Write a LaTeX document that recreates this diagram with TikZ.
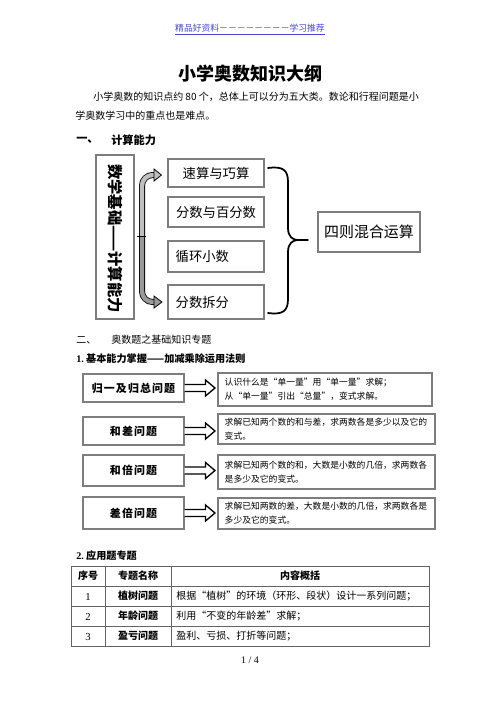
\documentclass[tikz,border=0pt]{standalone}
\usepackage{fontspec}
\setmainfont{Noto Sans CJK SC}
\newfontfamily\numfont{Liberation Serif}
\usetikzlibrary{calc}
\definecolor{hdrblue}{RGB}{70,70,215}
\definecolor{boxgray}{RGB}{125,125,125}
\definecolor{bandgray}{RGB}{190,190,190}
\newcommand{\fs}[1]{\fontsize{#1pt}{#1pt}\selectfont}
\begin{document}
\begin{tikzpicture}[x=0.75pt,y=-0.75pt,inner sep=0pt,
  body/.style={font=\fs{7.5}},
  gbox/.style={draw=boxgray,line width=0.8pt,fill=white},
  midtxt/.style={font=\fs{10}},
  lbox/.style={gbox,minimum width=75.75pt},
  ltxt/.style={font=\addfontfeatures{LetterSpace=10}\fs{8.2}\bfseries},
  rbox/.style={gbox},
  rtxt/.style={font=\fontsize{6.6pt}{10.5pt}\selectfont,align=left,anchor=west},
  blk/.style={draw=black,line width=1pt,fill=white,line join=miter},
  tline/.style={draw=boxgray!80!black,line width=0.7pt}]
\useasboundingbox (0,0) rectangle (500,708);
\fill[white] (0,0) rectangle (500,708);

% header
\node[font=\fs{6.6},text=hdrblue] (hdr) at (250,28) {精品好资料－－－－－－－－学习推荐};
\draw[hdrblue,line width=0.4pt] ($(hdr.south west)+(0,1.5)$) -- ($(hdr.south east)+(0,1.5)$);

% title
\node[font=\fs{13.5}\bfseries] (title) at (250,74) {小学奥数知识大纲};
\node[body,anchor=west] (p1) at (93,97) {小学奥数的知识点约 80 个，总体上可以分为五大类。数论和行程问题是小};
\node[body,anchor=west] (p2) at (75,116) {学奥数学习中的重点也是难点。};

% section 1
\node[font=\fs{8.4}\bfseries,anchor=west] (s1a) at (76,140) {一、};
\node[font=\fs{8.4}\bfseries,anchor=west] (s1b) at (111,140) {计算能力};

\node[gbox,minimum width=28.5pt,minimum height=123pt] (vb) at (115,237) {};
\node[rotate=-90,font=\fs{11.5}\bfseries] (vt) at (115,238.5) {数学基础——计算能力};

\node[gbox,midtxt,minimum width=72pt,minimum height=21pt] (b1) at (216,173) {速算与巧算};
\node[gbox,midtxt,minimum width=72pt,minimum height=22.5pt] (b2) at (216,212) {分数与百分数};
\node[gbox,minimum width=72pt,minimum height=23.25pt] (b3) at (216,256.5) {};
\node[midtxt,anchor=west] at ($(b3.west)+(8,0)$) {循环小数};
\node[gbox,minimum width=72pt,minimum height=25.5pt] (b4) at (216,302) {};
\node[midtxt,anchor=west] at ($(b4.west)+(8,0)$) {分数拆分};

\node[gbox,font=\fs{11.2},minimum width=76.5pt,minimum height=30pt] (big) at (369,232) {四则混合运算};

% curved double arrow
\coordinate (mid) at (142,236);
\coordinate (t1) at (155,175);
\coordinate (t2) at (155,302);
\draw[line width=0.6pt,double=bandgray,double distance=3.3pt,rounded corners=8pt] (mid) |- (t1);
\draw[line width=0.6pt,double=bandgray!80!black,double distance=3.3pt,rounded corners=8pt] (mid) |- (t2);
\draw[line width=0.6pt,fill=bandgray] ($(t1)+(-1,-6)$) -- ($(b1.west)+(-6,2)$) -- ($(t1)+(-1,6)$) -- cycle;
\draw[line width=0.6pt,fill=bandgray!80!black] ($(t2)+(-1,-6)$) -- ($(t2)+(7,0)$) -- ($(t2)+(-1,6)$) -- cycle;
\draw[line width=0.6pt] (137,236) -- (146,236);

% brace
\draw[line width=1.3pt,line cap=round]
  (268,168) .. controls (283,166) and (288,170) .. (288,182) -- (288,228)
  .. controls (288,237) and (293,240) .. (298,240) -- (308,240);
\draw[line width=1.3pt,line cap=round]
  (268,313) .. controls (283,315) and (288,311) .. (288,299) -- (288,252)
  .. controls (288,243) and (293,240) .. (298,240);

% section 2
\node[body,anchor=west] (s2a) at (76,340) {二、};
\node[body,anchor=west] (s2b) at (111,340) {奥数题之基础知识专题};
\node[font=\fs{7.6}\bfseries,anchor=west] (s21) at (76,359) {{\numfont 1.}\ 基本能力掌握——加减乘除运用法则};

\node[lbox,minimum height=21pt] (L1) at (133.5,388) {};
\node[ltxt] at (L1) {归一及归总问题};
\node[rbox,minimum width=160.5pt,minimum height=24.75pt] (R1) at (325,389.5) {};
\node[rtxt] at ($(R1.west)+(7,0)$) {认识什么是“单一量”用“单一量”求解；\\从“单一量”引出“总量”，变式求解。};

\node[lbox,minimum height=21pt] (L2) at (133.5,431) {};
\node[ltxt] at (L2) {和差问题};
\node[rbox,minimum width=162.75pt,minimum height=22.5pt] (R2) at (326.5,429) {};
\node[rtxt] at ($(R2.west)+(7,0)$) {求解已知两个数的和与差，求两数各是多少以及它的\\变式。};

\node[lbox,minimum height=23.25pt] (L3) at (133.5,470.5) {};
\node[ltxt] at (L3) {和倍问题};
\node[rbox,minimum width=162.75pt,minimum height=25.5pt] (R3) at (326.5,472) {};
\node[rtxt] at ($(R3.west)+(7,0)$) {求解已知两个数的和，大数是小数的几倍，求两数各\\是多少及它的变式。};

\node[lbox,minimum height=24pt] (L4) at (133.5,513) {};
\node[ltxt] at (L4) {差倍问题};
\node[rbox,minimum width=162.75pt,minimum height=23.25pt] (R4) at (326.5,513.5) {};
\node[rtxt] at ($(R4.west)+(7,0)$) {求解已知两数的差，大数是小数的几倍，求两数各是\\多少及它的变式。};

\foreach \l/\r in {L1/R1,L2/R2,L3/R3,L4/R4}{
  \draw[blk] ($(\l.east)+(0,-3.5)$) -- ($(\l.east)+(21,-3.5)$) -- ($(\l.east)+(21,-8)$)
    -- ($(\r.west|-\l.east)+(-2.5,0)$) -- ($(\l.east)+(21,8)$) -- ($(\l.east)+(21,3.5)$)
    -- ($(\l.east)+(0,3.5)$);
}

% section 2.2
\node[font=\fs{7.6}\bfseries,anchor=west] (s22) at (76,556) {{\numfont 2.}\ 应用题专题};

\draw[tline] (71,566) rectangle (429,646);
\foreach \y in {586,606,626} \draw[tline] (71,\y) -- (429,\y);
\foreach \x in {105,171} \draw[tline] (\x,566) -- (\x,646);

\node[font=\fs{7.5}\bfseries] at (88,576) {序号};
\node[font=\fs{7.5}\bfseries] at (138,576) {专题名称};
\node[font=\fs{7.5}\bfseries] at (300,576) {内容概括};

\node[font=\numfont\fs{8}] at (88,597) {1};
\node[font=\fs{7.5}\bfseries] at (138,596) {植树问题};
\node[body,anchor=west] at (176,596) {根据“植树”的环境（环形、段状）设计一系列问题；};
\node[font=\numfont\fs{8}] at (88,617) {2};
\node[font=\fs{7.5}\bfseries] at (138,616) {年龄问题};
\node[body,anchor=west] at (176,616) {利用“不变的年龄差”求解；};
\node[font=\numfont\fs{8}] at (88,637) {3};
\node[font=\fs{7.5}\bfseries] at (138,636) {盈亏问题};
\node[body,anchor=west] at (176,636) {盈利、亏损、打折等问题；};

\node[font=\numfont\fs{7.5}] (pg) at (250,660) {1 / 4};
\end{tikzpicture}
\end{document}
